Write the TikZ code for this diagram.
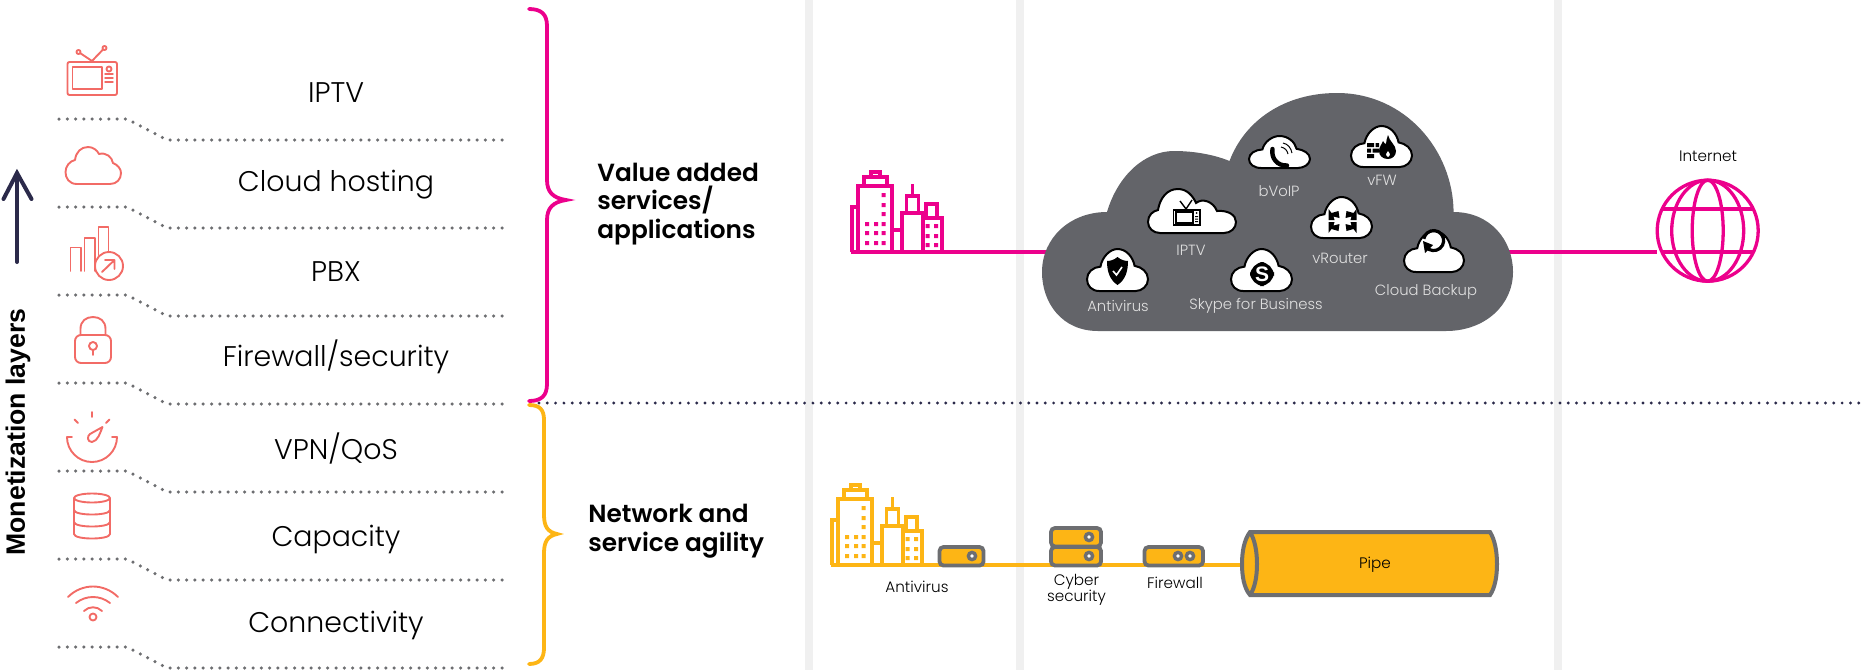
\documentclass[tikz,border=0pt]{standalone}
\usepackage{fontspec}
\setmainfont{Poppins Light}
\newfontfamily\boldgothic{Poppins SemiBold}
\newfontfamily\arialbold{Liberation Sans Bold}
\definecolor{mag}{HTML}{EC008C}
\definecolor{org}{HTML}{FDB515}
\definecolor{cor}{HTML}{F26B66}
\definecolor{gry}{HTML}{6D6E71}
\definecolor{cld}{HTML}{636469}
\definecolor{nav}{HTML}{2B2A4A}
\definecolor{bar}{HTML}{F0F0F0}
\tikzset{
  dotline/.style={draw=gry,line width=1.75pt,line cap=round,dash pattern=on 0pt off 4.15pt},
  midline/.style={draw=nav,line width=1.6pt,line cap=round,dash pattern=on 0pt off 4.15pt},
  layer/.style={inner sep=0pt,font=\fontsize{14.2}{17}\selectfont,text=black},
  headline/.style={inner sep=0pt,align=left,font=\boldgothic\fontsize{12.4}{14.4}\selectfont,text=black},
  smalllabel/.style={inner sep=0pt,align=center,font=\fontsize{7.6}{8.2}\selectfont,text=black},
  cloudlabel/.style={inner sep=0pt,font=\fontsize{7.4}{9}\selectfont,text=white!88!black},
  icon/.style={draw=cor,line width=0.95pt,line join=round,line cap=round},
  brace/.style={line width=1.9pt,line cap=round},
  device/.style={draw=gry,fill=org,line width=1.9pt,rounded corners=2pt},
  hole/.style={draw=gry,fill=white,line width=1.7pt},
  globeline/.style={draw=mag,line width=1.65pt},
  cloudicon/.style={draw=black,fill=white,line width=1pt},
}
\newcommand{\dotrow}[3]{%
  \coordinate (d#1a) at (59,#2); \coordinate (d#1b) at (127,#2);
  \coordinate (d#1c) at (167,#3); \coordinate (d#1d) at (510,#3);
  \draw[dotline] (d#1a) -- (d#1b) -- (d#1c) -- (d#1d);}
\newcommand{\cityicon}[3]{%
  \begin{scope}[shift={(#2,#3)},draw=#1,line width=1.75pt,line join=miter]
    \draw (852,252) -- (852,207) -- (858,207);
    \draw (858,252) -- (858,186) -- (892,186) -- (892,252);
    \draw (864,186) -- (864,177) -- (887,177) -- (887,186);
    \draw (871,177) -- (871,172) -- (880,172) -- (880,177);
    \draw (892,230) -- (902,230);
    \draw (902,252) -- (902,213) -- (923,213) -- (923,252);
    \draw (906.5,213) -- (906.5,196) -- (918.5,196) -- (918.5,213);
    \draw (912.5,196) -- (912.5,184);
    \draw (923,218) -- (942,218) -- (942,252);
    \draw (926,218) -- (926,204) -- (937,204) -- (937,218);
    \draw (851,252) -- (943,252);
    \fill[#1] foreach \p in {(883.5,195),(883.5,205),(883.5,214),(867,224),(876,224),(883.5,224),(867,233),(876,233),(883.5,233),(867,243),(876,243),(883.5,243),(927.5,226),(936,226),(927.5,236),(936,236),(927.5,245),(936,245)} {\p +(-2,-2) rectangle +(2,2)};
  \end{scope}}
\newcommand{\scloud}[4]{%
  \begin{scope}[shift={(#1,#2)},x=#3*0.5pt,y=-#4*0.5pt]
    \draw[cloudicon] (0.2,1) .. controls (0.08,1) and (0,0.88) .. (0,0.72)
      .. controls (0,0.55) and (0.1,0.43) .. (0.22,0.42)
      .. controls (0.25,0.18) and (0.38,0) .. (0.5,0)
      .. controls (0.64,0) and (0.75,0.18) .. (0.78,0.4)
      .. controls (0.9,0.43) and (1,0.55) .. (1,0.72)
      .. controls (1,0.88) and (0.9,1) .. (0.8,1) -- cycle;
  \end{scope}}
\begin{document}
\begin{tikzpicture}[x=0.5pt,y=-0.5pt]
\useasboundingbox (0,0) rectangle (1864,670);
% vertical bars
\foreach \bx in {808.5,1020,1558} \fill[bar] (\bx-4,0) rectangle (\bx+4,670);
% dotted rows
\dotrow{1}{119}{140}
\dotrow{2}{207}{228}
\dotrow{3}{295}{316}
\dotrow{4}{383}{404}
\dotrow{5}{471}{492}
\dotrow{6}{559}{580}
\dotrow{7}{647}{668}
\coordinate (mida) at (539,403); \coordinate (midb) at (1860,403);
\draw[midline] (mida) -- (midb);
% arrow
\coordinate (arrA) at (17,262); \coordinate (arrB) at (17,173);
\draw[draw=nav,line width=2pt,line cap=round,line join=miter] (arrA) -- (arrB);
\draw[draw=nav,line width=2pt,line cap=round,line join=miter] (3.5,199) -- (arrB) -- (31.5,199);
\node[inner sep=0pt,rotate=90,font=\arialbold\fontsize{13.3}{16}\selectfont] (mon) at (18,432) {Monetization layers};
% braces
\draw[brace,draw=mag] (529,9) .. controls (541,9) and (547,14) .. (547,26) -- (547,180)
  .. controls (547,192) and (553,198) .. (566,200) .. controls (553,202) and (547,208) .. (547,220)
  -- (547,384) .. controls (547,396) and (541,401) .. (529,401);
\draw[brace,draw=org] (529,405) .. controls (540,405) and (544,410) .. (544,420) -- (544,515)
  .. controls (544,527) and (548,532) .. (557,534) .. controls (548,536) and (544,541) .. (544,553)
  -- (544,648) .. controls (544,658) and (540,664) .. (529,664);
% layer labels
\node[layer] (l1) at (336,93) {IPTV};
\node[layer] (l2) at (336,185) {Cloud hosting};
\node[layer] (l3) at (336,272) {PBX};
\node[layer] (l4) at (336,357) {Firewall/security};
\node[layer] (l5) at (336,449) {VPN/QoS};
\node[layer] (l6) at (336,539) {Capacity};
\node[layer] (l7) at (336,625) {Connectivity};
\node[headline,anchor=west] (h1) at (597,204) {Value added\\services/\\applications};
\node[headline,anchor=west] (h2) at (588,531) {Network and\\service agility};
% icons: TV
\draw[icon,rounded corners=1pt] (67.5,62) rectangle (117,95);
\draw[icon] (72.5,67) rectangle (102,89);
\draw[icon] (109,69) circle (2.5);
\draw[icon,line width=0.7pt] (105,74) -- (113,74) (105,78) -- (113,78) (105,82) -- (113,82);
\draw[icon] (92,61) -- (80,53) (92,61) -- (103.5,49);
\draw[icon,fill=white] (78.5,52) circle (2) (104.5,48) circle (2);
% cloud
\draw[icon] (77,184) .. controls (69,184) and (65.5,178) .. (65.5,172) .. controls (65.5,166) and (70,161) .. (75,160)
  .. controls (76,152) and (81,147) .. (88,147) .. controls (93,147) and (97,150) .. (99,154)
  .. controls (106,152) and (112,157) .. (113,163) .. controls (118,165) and (121,169) .. (121,173)
  .. controls (121,179) and (117,184) .. (110,184) -- cycle;
% bars
\draw[icon] (70.5,271) -- (70.5,247.5) -- (81,247.5) -- (81,271);
\draw[icon] (84.5,271) -- (84.5,238) -- (95,238) -- (95,271);
\draw[icon] (98.5,255) -- (98.5,227) -- (108.5,227) -- (108.5,252);
\draw[icon] (109,266) circle (14);
\draw[icon] (102,272) -- (114.5,260) (105,260) -- (114.5,260) -- (114.5,269);
% lock
\draw[icon,rounded corners=3pt] (75,335) rectangle (111,363);
\draw[icon] (80.5,335) -- (80.5,329) .. controls (80.5,321) and (86,317) .. (93,317) .. controls (100,317) and (105.5,321) .. (105.5,329) -- (105.5,335);
\draw[icon] (93,346) circle (4);
\draw[icon] (93,350) -- (93,355);
% gauge
\draw[icon] (72,437) -- (67,437) arc[start angle=180,end angle=0,radius=25] -- (112,437);
\draw[icon] (92,412) -- (92,417) (74.5,419.5) -- (78,423) (109.5,419.5) -- (106,423);
\draw[icon] (102.5,427) .. controls (100,433) and (98,441) .. (92,442) .. controls (87,442) and (87,436) .. (90,434) -- cycle;
% database
\draw[icon] (92,498) ellipse (18 and 4.5);
\draw[icon] (74,498) -- (74,534) .. controls (74,540) and (110,540) .. (110,534) -- (110,498);
\draw[icon] (74,510) .. controls (74,516) and (110,516) .. (110,510);
\draw[icon] (74,522) .. controls (74,528) and (110,528) .. (110,522);
% wifi
\draw[icon] (93,617) circle (3.5);
\draw[icon] (84,611) .. controls (89,606) and (97,606) .. (102,611);
\draw[icon] (76,603) .. controls (86,595) and (100,595) .. (110,603);
\draw[icon] (68,597) .. controls (82,583) and (104,583) .. (118,597);
% cities
\cityicon{mag}{0}{0}
\cityicon{org}{-20}{313}
% big cloud
\coordinate (citym) at (851,252);
\coordinate (netl) at (1657,252);
\draw[globeline,line width=2pt] (citym) -- (1060,252);
\draw[globeline,line width=2pt] (1500,252) -- (netl);
\path[fill=cld] (1098,331) .. controls (1062,331) and (1042,303) .. (1042,272)
  .. controls (1042,238) and (1070,212) .. (1107,212)
  .. controls (1118,175) and (1145,151) .. (1174,151)
  .. controls (1195,151) and (1215,155) .. (1229.5,161)
  .. controls (1245,120) and (1285,93) .. (1337,93)
  .. controls (1405,93) and (1453,150) .. (1453.6,212)
  .. controls (1490,212) and (1513,240) .. (1513,272)
  .. controls (1513,305) and (1485,331) .. (1446,331) -- cycle;
% small clouds
\scloud{1249}{136}{61}{32}
\scloud{1351}{126}{61}{41}
\scloud{1311}{197}{61}{41}
\scloud{1087}{249}{61}{42}
\scloud{1231}{249}{61}{42}
\scloud{1404}{231}{60}{41}
\draw[cloudicon] (1160,233) .. controls (1153,233) and (1148,228) .. (1148,222) .. controls (1148,215) and (1153,211) .. (1158,210)
  .. controls (1160,198) and (1167,189) .. (1178,189) .. controls (1187,189) and (1193,196) .. (1196,203)
  .. controls (1202,198) and (1213,201) .. (1217,211) .. controls (1228,210) and (1236,215) .. (1236,222)
  .. controls (1236,228) and (1231,233) .. (1224,233) -- cycle;
% cloud labels
\node[cloudlabel] (c1) at (1279,191) {bVoIP};
\node[cloudlabel] (c2) at (1382,180) {vFW};
\node[cloudlabel] (c3) at (1191,250) {IPTV};
\node[cloudlabel] (c4) at (1340,258) {vRouter};
\node[cloudlabel] (c5) at (1118,306) {Antivirus};
\node[cloudlabel] (c6) at (1256,306) {Skype for Business};
\node[cloudlabel] (c7) at (1426,292) {Cloud Backup};
% phone
\draw[black,line width=2.2pt,line cap=round] (1272.5,149) .. controls (1271,158) and (1277,166) .. (1287,165.5);
\draw[black,line width=0.5pt] (1281,147) .. controls (1285,148) and (1287,150) .. (1288,154) (1283,143) .. controls (1288,144) and (1291,148) .. (1292,153);
% vFW
\fill[black] (1367,143) rectangle (1374,147) (1375.5,143) rectangle (1379,147) (1367,148.5) rectangle (1371,152.5) (1372.5,148.5) rectangle (1379,152.5) (1367,154) rectangle (1374,158);
\fill[black] (1388,135) .. controls (1389,141) and (1396,145) .. (1396,151) .. controls (1396,156) and (1392,159) .. (1388,159)
  .. controls (1383,159) and (1379,156) .. (1379,151) .. controls (1379,147) and (1382,144) .. (1383,141) .. controls (1384,143) and (1385,144) .. (1386,144) .. controls (1386,141) and (1387,138) .. (1388,135) -- cycle;
\fill[white] (1388,151) .. controls (1390,153) and (1391,155) .. (1388,157) .. controls (1385,155) and (1386,153) .. (1388,151) -- cycle;
% TV small
\draw[black,line width=0.9pt] (1173.5,210) rectangle (1200,225);
\draw[black,line width=0.7pt] (1176,212) rectangle (1193,223);
\draw[black,line width=0.7pt] (1186,209) -- (1180,201) (1186,209) -- (1192,200);
\fill[black] (1196.5,213) circle (1) (1195,216) rectangle (1198,217) (1195,218.5) rectangle (1198,219.5) (1195,221) rectangle (1198,222);
% router
\foreach \dx/\dy in {1/1,-1/1,1/-1,-1/-1}{
  \fill[black] (1342.5+\dx*3,221+\dy*3) -- (1342.5+\dx*9,221+\dy*4.5) -- (1342.5+\dx*8,221+\dy*1) -- (1342.5+\dx*14,221+\dy*1) -- (1342.5+\dx*14,221+\dy*12) -- (1342.5+\dx*11,221+\dy*8) -- (1342.5+\dx*4,221+\dy*10) -- cycle;}
% shield
\fill[black] (1117.5,257) .. controls (1121,260) and (1125,261) .. (1128,261) .. controls (1128,272) and (1125,280) .. (1117.5,285)
  .. controls (1110,280) and (1107,272) .. (1107,261) .. controls (1110,261) and (1114,260) .. (1117.5,257) -- cycle;
\draw[white,line width=0.8pt] (1113,271) -- (1116.5,275) -- (1122,267);
% skype
\fill[black,rounded corners=7pt] (1250,262) rectangle (1274,286);
\node[inner sep=0pt,text=white,font=\arialbold\fontsize{10.5}{12}\selectfont] (sk) at (1262,274) {S};
% backup
\draw[black,line width=1.6pt] (1426,247) arc[start angle=140,end angle=-170,radius=10];
\fill[black] (1423,241) -- (1433,245) -- (1425,253) -- cycle;
% globe
\coordinate (glob) at (1707.7,230.7);
\node[smalllabel] (inet) at (1708,156) {Internet};
\draw[globeline] (glob) circle (50.5);
\draw[globeline] (glob) ellipse (36 and 50.5);
\draw[globeline] (glob) ellipse (15.5 and 50.5);
\draw[globeline] (1662,209) -- (1753.5,209) (1662,252) -- (1753.5,252);
% lower row
\coordinate (orga) at (831,565); \coordinate (orgb) at (1245,565);
\draw[draw=org,line width=2pt] (orga) -- (orgb);
\draw[device] (939.5,547) rectangle (983.5,565.5);
\draw[hole] (972,556) circle (3.6);
\draw[device] (1051,528) rectangle (1101,546.5);
\draw[device] (1051,547) rectangle (1101,565.5);
\draw[hole] (1089,537) circle (3.6);
\draw[hole] (1089,556) circle (3.6);
\draw[device] (1144.5,547) rectangle (1203,565.5);
\draw[hole] (1178,556) circle (3.6);
\draw[hole] (1190,556) circle (3.6);
% pipe
\draw[draw=gry,fill=org,line width=2pt] (1250,532) -- (1490,532) .. controls (1495,540) and (1497,552) .. (1497,564) .. controls (1497,576) and (1495,588) .. (1490,595) -- (1250,595) .. controls (1244,588) and (1242,576) .. (1242,564) .. controls (1242,552) and (1244,540) .. (1250,532) -- cycle;
\draw[draw=gry,line width=2pt] (1250,532) .. controls (1255,540) and (1257,552) .. (1257,564) .. controls (1257,576) and (1255,588) .. (1250,595);
\node[smalllabel] (pipe) at (1375,565) {Pipe};
\node[smalllabel] (la) at (917,587) {Antivirus};
\node[smalllabel] (lb) at (1076.5,590) {Cyber\\security};
\node[smalllabel] (lc) at (1175,583) {Firewall};
\end{tikzpicture}
\end{document}
